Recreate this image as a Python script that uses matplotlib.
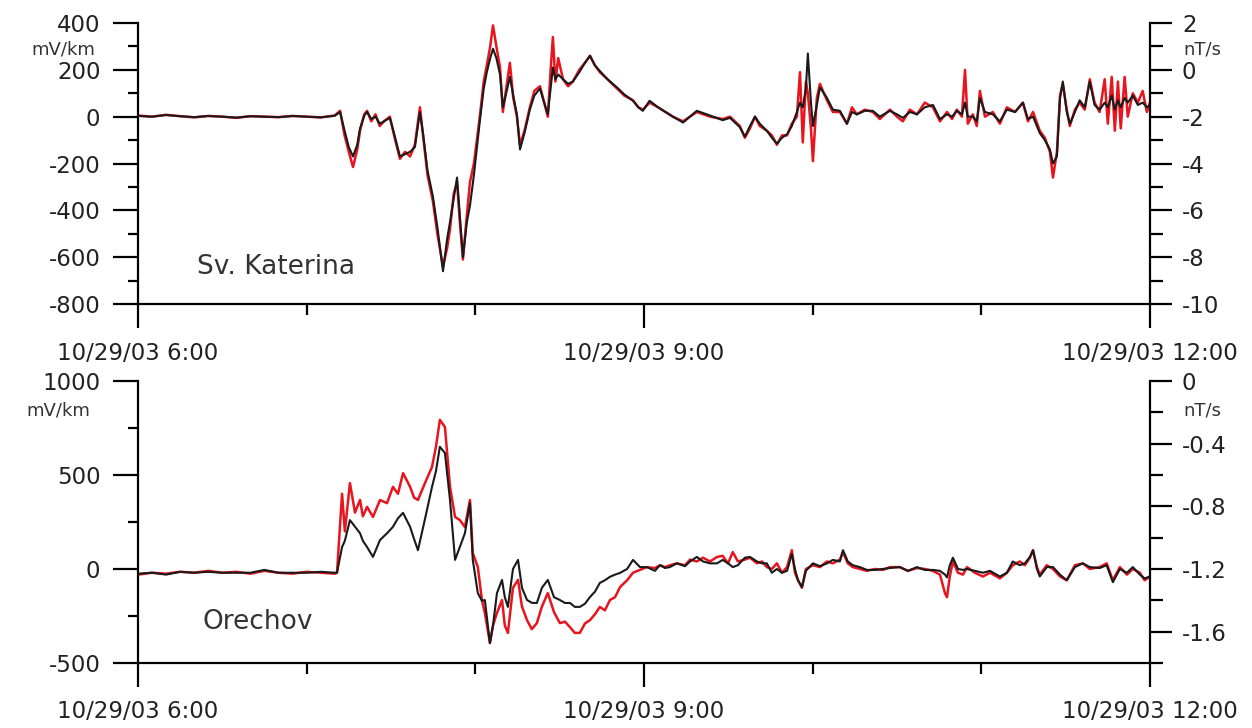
import matplotlib
matplotlib.use("Agg")
import matplotlib.pyplot as plt
from matplotlib.ticker import MultipleLocator, FuncFormatter, FixedLocator

plt.rcParams['font.family'] = ['DejaVu Sans']
plt.rcParams['axes.unicode_minus'] = False

# time axis: minutes after 10/29/03 6:00
time_labels = ['10/29/03 6:00', '10/29/03 9:00', '10/29/03 12:00']

# ---- Sv. Katerina ----
kat_t = [0, 5, 10, 15, 20, 25, 30, 35, 40, 45, 50, 55, 60, 65, 70,
         71.9, 73.5, 75, 76.5, 78, 79, 80.5, 81.5, 83, 84.5, 86, 87.5, 89.6, 91.5, 93.2,
         95, 96.8, 98.5, 100.3, 101.4, 103, 104.9, 106.5, 108.5, 110, 111, 112.3, 113.5,
         114.5, 115.6, 117, 118.1, 119.5, 121.6, 123, 124.1, 125.3, 126.3, 127.5, 128.8,
         129.8, 131, 132.3, 133.5, 134.8, 135.9, 137.5, 139.4, 141, 143, 144.5, 145.8,
         146.8, 147.6, 148.5, 149.5, 151.2, 153, 154.7, 157, 159, 160.8, 162.5, 164.3,
         167, 170.4, 173, 176.1, 178, 179.6, 182, 185, 190.3, 193.9, 198.8, 203.5, 208,
         210.6, 214.1, 215.9, 217.7, 219.5, 221.2, 223.7, 225.5, 227.3, 229.1, 230.9,
         232.6, 234.4, 235.5, 236.5, 237.6, 238.3, 239.4, 240.1, 241.5, 242.6, 245.1,
         247.2, 249.7, 252.2, 254, 255.7, 258.6, 261.4, 263.9, 267.5, 270, 272.1, 274.6,
         277.1, 279.9, 282.8, 285.3, 287.8, 289.6, 291.3, 293.1, 294.2, 295.2, 297, 298.4,
         299.5, 301.3, 304.1, 306.6, 309.1, 312, 314.8, 316.6, 318.4, 320.8, 322.6, 324.4,
         325.5, 326.9, 328, 329, 330.4, 331.5, 333.3, 335, 336.8, 338.6, 340.3, 342.1,
         343.9, 345, 346.4, 347.5, 348.6, 349.6, 351, 352.1, 353.9, 355.7, 357.4, 358.9, 360]
kat_e = [5, 0, 8, 2, -3, 3, 0, -5, 2, 0, -2, 3, 0, -3, 5,
         25, -80, -150, -215, -140, -60, 10, 25, -20, 10, -40, -20, 0, -100, -180,
         -150, -170, -120, 40, -80, -250, -360, -500, -640, -560, -480, -330, -280,
         -450, -610, -420, -280, -200, 0, 150, 220, 300, 390, 300, 210,
         20, 120, 230, 80, 0, -120, -60, 40, 110, 130, 60, 0,
         200, 340, 150, 250, 160, 130, 150, 200, 230, 260, 220, 190,
         160, 120, 90, 70, 40, 30, 60, 40, 0, -20, 20, 0, -10,
         0, -40, -90, -50, 0, -40, -60, -80, -120, -80, -80,
         -30, 0, 190, -110, 150, 100, -50, -190, 80, 140, 70,
         20, 20, -30, 40, 10, 30, 20, -10, 30, 0, -20, 30,
         10, 60, 40, -20, 20, -10, 30, 0, 200, -30, 10, -40,
         110, 0, 20, -30, 40, 20, 60, -20, 20, -60, -90, -150,
         -260, -150, 90, 140, 30, -40, 30, 60, 30, 160, 60, 20,
         160, -30, 170, -60, 150, -50, 170, 0, 100, 60, 110, 20, 60]
kat_db = [-1.97, -2.0, -1.93, -1.98, -2.02, -1.97, -2.0, -2.04, -1.98, -2.0, -2.02, -1.97, -2.0, -2.03, -1.96,
          -1.8, -2.6, -3.3, -3.7, -3.2, -2.5, -1.95, -1.8, -2.1, -2.0, -2.3, -2.2, -2.05, -2.9, -3.7,
          -3.6, -3.5, -3.3, -1.8, -2.7, -4.3, -5.4, -6.7, -8.6, -7.2, -6.5, -5.5, -4.6,
          -6.2, -8.0, -6.5, -5.8, -4.5, -2.2, -0.8, -0.1, 0.5, 0.9, 0.5, -0.2,
          -1.6, -1.0, -0.3, -1.1, -1.9, -3.4, -2.7, -1.7, -1.1, -0.8, -1.4, -1.9,
          -0.8, 0.1, -0.4, -0.2, -0.4, -0.6, -0.5, -0.1, 0.3, 0.6, 0.2, -0.05,
          -0.4, -0.75, -1.05, -1.32, -1.6, -1.75, -1.32, -1.6, -2.0, -2.25, -1.75, -1.95, -2.15,
          -2.05, -2.45, -2.85, -2.4, -2.0, -2.3, -2.6, -2.9, -3.15, -2.9, -2.75,
          -2.4, -1.8, -1.4, -1.6, -0.8, 0.7, -1.4, -2.4, -1.5, -0.75, -1.2,
          -1.7, -1.75, -2.3, -1.8, -1.9, -1.75, -1.75, -2.0, -1.75, -1.9, -2.05, -1.8,
          -1.9, -1.6, -1.5, -2.1, -1.9, -2.0, -1.75, -1.9, -1.4, -2.0, -2.0, -2.2,
          -1.2, -1.8, -1.9, -2.2, -1.7, -1.8, -1.4, -2.1, -2.0, -2.7, -3.0, -3.4,
          -4.0, -3.7, -1.2, -0.5, -1.8, -2.3, -1.8, -1.3, -1.6, -0.5, -1.5, -1.7,
          -1.4, -1.6, -1.1, -1.7, -1.3, -1.6, -1.2, -1.4, -1.1, -1.5, -1.4, -1.6, -1.5]

# ---- Orechov ----
ore_t = [0, 5, 10, 15, 20, 25, 30, 35, 40, 45, 50, 55, 60, 65, 70,
         70.8, 72.6, 73.6, 75.4, 77.2, 79, 80, 81.5, 83.6, 86.1, 88.6, 90.7, 92.5, 94.3,
         96.8, 98.2, 99.6, 102.1, 104.6, 106, 107.4, 109.2, 111, 112.8, 114.5, 116.3,
         118.1, 119.1, 120.9, 122.4, 123.4, 125.2, 126.3, 127.7, 129.5, 130.5, 131.6,
         133.4, 135.2, 136.6, 138.4, 140.1, 141.9, 143.7, 145.8, 148, 150.1, 151.9,
         153.7, 155.4, 157.2, 159, 160.8, 162.6, 164.3, 166.1, 167.9, 169.7, 171.5, 174,
         176.1, 178.6, 181, 183.9, 185.7, 187.5, 189.2, 191.7, 194.6, 196.4, 198.8, 201,
         203.5, 206, 208, 209.9, 211.6, 213.4, 215.9, 217.7, 220.2, 222, 223.7, 225.5,
         227.3, 229.1, 230.9, 232.6, 233.7, 234.8, 236.2, 237.6, 240.1, 242.6, 245.1,
         247.2, 249.7, 250.8, 252.5, 254.3, 256.8, 259.3, 262.2, 265, 267.5, 271, 273.9,
         277.1, 279.9, 282.8, 285.3, 287.1, 287.8, 288.8, 289.9, 291.7, 293.5, 294.9,
         297.7, 300.6, 303.1, 306.6, 309.1, 311.2, 313.7, 315.5, 317.3, 318.4, 319.8,
         320.8, 323.3, 325.5, 328, 330.4, 333.3, 336.1, 338.6, 342.1, 344.6, 346.8,
         349.3, 351.8, 353.9, 356.4, 358.1, 360]
ore_e = [-30, -20, -25, -15, -20, -10, -20, -15, -25, -10, -20, -25, -15, -20, -25,
         -20, 400, 200, 457, 300, 367, 280, 330, 277, 367, 350, 437, 400, 510,
         437, 380, 367, 457, 543, 650, 793, 755, 437, 277, 260, 223,
         367, 85, 10, -170, -234, -394, -300, -234, -165, -300, -340,
         -100, -58, -200, -272, -320, -288, -200, -128, -230, -288, -280,
         -310, -340, -340, -290, -272, -240, -202, -220, -165, -150, -96, -60,
         -20, -5, 10, 5, 20, 10, 20, 30, 20, 50, 40, 60,
         40, 64, 70, 30, 90, 40, 50, 60, 30, 40, 10, 0,
         30, -20, 10, 100, -20, -60, -100, 0, 20, 10, 40,
         30, 50, 90, 30, 10, 0, -10, 0, -5, 10, 10, -10,
         5, 0, -10, -30, -130, -150, -40, 40, -20, -30, 10,
         -20, -40, -20, -50, -20, 20, 40, 20, 60, 100, 10,
         -30, 20, 0, -40, -60, 20, 30, 0, 10, 30, -60,
         10, -30, 0, -20, -60, -40]
ore_db = [-1.23, -1.224, -1.236, -1.218, -1.224, -1.218, -1.224, -1.224, -1.224, -1.206, -1.224, -1.224, -1.224, -1.218, -1.224,
          -1.224, -1.06, -1.02, -0.888, -0.93, -0.972, -1.02, -1.06, -1.123, -1.015, -0.972, -0.931, -0.876, -0.842,
          -0.931, -1.008, -1.08, -0.881, -0.676, -0.576, -0.42, -0.46, -0.76, -1.142, -1.06, -0.972,
          -0.78, -1.142, -1.354, -1.404, -1.398, -1.673, -1.56, -1.354, -1.27, -1.38, -1.442,
          -1.2, -1.142, -1.32, -1.398, -1.416, -1.417, -1.32, -1.27, -1.38, -1.398, -1.417,
          -1.417, -1.442, -1.442, -1.422, -1.379, -1.344, -1.289, -1.272, -1.25, -1.236, -1.225, -1.2,
          -1.142, -1.188, -1.188, -1.212, -1.176, -1.194, -1.188, -1.164, -1.182, -1.152, -1.123, -1.152,
          -1.164, -1.164, -1.142, -1.164, -1.188, -1.176, -1.128, -1.123, -1.152, -1.164, -1.164, -1.224,
          -1.2, -1.224, -1.212, -1.104, -1.2, -1.272, -1.315, -1.212, -1.164, -1.182, -1.164,
          -1.142, -1.152, -1.08, -1.152, -1.176, -1.188, -1.206, -1.206, -1.2, -1.194, -1.188, -1.212,
          -1.188, -1.206, -1.206, -1.212, -1.236, -1.254, -1.176, -1.128, -1.2, -1.206, -1.2,
          -1.212, -1.224, -1.212, -1.248, -1.224, -1.152, -1.176, -1.164, -1.123, -1.08, -1.2,
          -1.248, -1.188, -1.188, -1.236, -1.272, -1.188, -1.164, -1.188, -1.194, -1.176, -1.284,
          -1.2, -1.224, -1.188, -1.236, -1.26, -1.248]

fig = plt.figure(figsize=(12.52, 7.28), dpi=100)
txt_col = '#222222'


def panel(rect, t, e, db, e_lim, e_major, e_minor, db_lim, db_major, db_minor, name, name_pos):
    ax = fig.add_axes(rect)
    ax.plot(t, e, color='#e8141e', lw=1.8, zorder=2)
    ax.set_xlim(0, 360)
    ax.set_ylim(*e_lim)
    ax.yaxis.set_major_locator(MultipleLocator(e_major))
    ax.yaxis.set_minor_locator(MultipleLocator(e_minor))
    ax.xaxis.set_major_locator(FixedLocator([0, 180, 360]))
    ax.xaxis.set_minor_locator(FixedLocator([60, 120, 240, 300]))
    ax.set_xticklabels(time_labels)
    for s in ['top', 'right']:
        ax.spines[s].set_visible(False)
    for s in ['left', 'bottom']:
        ax.spines[s].set_linewidth(1.6)
    ax.tick_params(axis='y', which='major', length=18, width=1.6, pad=9,
                   labelsize=16.5, labelcolor=txt_col)
    ax.tick_params(axis='y', which='minor', length=7, width=1.6)
    ax.tick_params(axis='x', which='major', length=17, width=1.6, pad=10,
                   labelsize=16.5, labelcolor=txt_col)
    ax.tick_params(axis='x', which='minor', length=8, width=1.6)

    ax2 = ax.twinx()
    ax2.plot(t, db, color='#1a1a1a', lw=1.5, zorder=3)
    ax2.set_ylim(*db_lim)
    ax2.yaxis.set_major_locator(MultipleLocator(db_major))
    ax2.yaxis.set_minor_locator(MultipleLocator(db_minor))
    ax2.yaxis.set_major_formatter(FuncFormatter(lambda v, p: '%g' % (round(v, 2) + 0.0)))
    for s in ['top', 'left', 'bottom']:
        ax2.spines[s].set_visible(False)
    ax2.spines['right'].set_linewidth(1.6)
    ax2.tick_params(axis='y', which='major', length=16, width=1.6, pad=7,
                    labelsize=16.5, labelcolor=txt_col)
    ax2.tick_params(axis='y', which='minor', length=9, width=1.6)

    ax.text(name_pos[0], name_pos[1], name, transform=ax.transAxes, fontsize=19,
            color='#333333', va='center', ha='left')
    return ax, ax2


ax1, ax1r = panel([0.1102, 0.5824, 0.8083, 0.386], kat_t, kat_e, kat_db,
                  (-800, 400), 200, 100, (-10, 2), 2, 1, 'Sv. Katerina', (0.058, 0.132))
ax1.text(-0.0425, 0.907, 'mV/km', transform=ax1.transAxes, fontsize=13,
         color='#333333', ha='right', va='center')
ax1.text(1.0326, 0.904, 'nT/s', transform=ax1.transAxes, fontsize=13,
         color='#333333', ha='left', va='center')

ax2, ax2r = panel([0.1102, 0.0893, 0.8083, 0.3874], ore_t, ore_e, ore_db,
                  (-500, 1000), 500, 250, (-1.8, 0), 0.4, 0.2, 'Orechov', (0.064, 0.145))
ax2.text(-0.047, 0.894, 'mV/km', transform=ax2.transAxes, fontsize=13,
         color='#333333', ha='right', va='center')
ax2.text(1.0326, 0.894, 'nT/s', transform=ax2.transAxes, fontsize=13,
         color='#333333', ha='left', va='center')

fig.savefig('out.png', dpi=100)
